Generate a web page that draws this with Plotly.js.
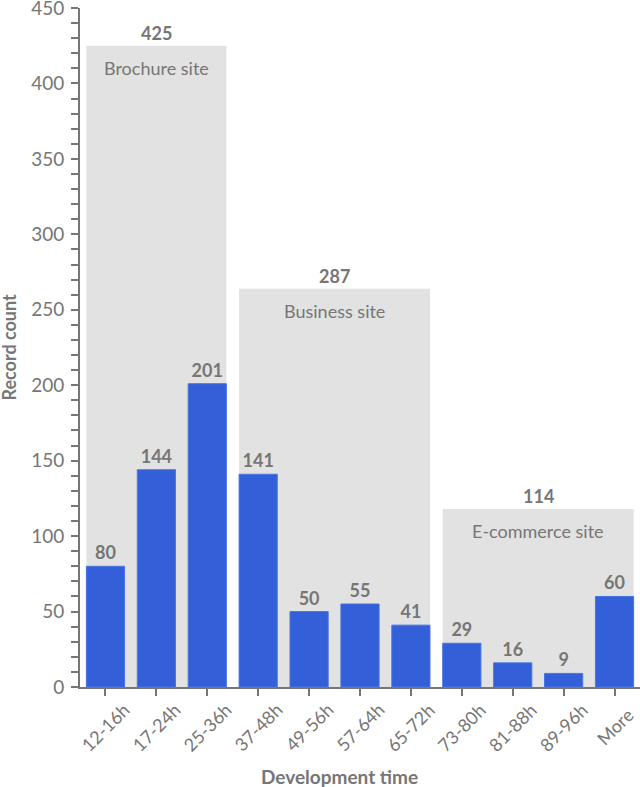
<!DOCTYPE html>
<html>
<head>
<meta charset="utf-8">
<script src="https://cdn.plot.ly/plotly-3.0.1.min.js"></script>
<style>html,body{margin:0;padding:0;background:#fff;}#chart{width:640px;height:787px;}</style>
</head>
<body>
<div id="chart"></div>
<script>
// Data
const categories = ["12-16h","17-24h","25-36h","37-48h","49-56h","57-64h","65-72h","73-80h","81-88h","89-96h","More"];
const recordCounts = [80,144,201,141,50,55,41,29,16,9,60];
const groupNames = ["Brochure site","Business site","E-commerce site"];
const groupStart = [0,3,7];
const groupEnd = [2,6,10];
const groupTotals = [425,287,114];
const groupBoxTop = [425,264,118];

const gray = "#767676";
const font = "Lato, Open Sans, sans-serif";
const bargap = 0.25;
const half = (1 - bargap) / 2;

const shapes = [];
const annotations = [];
for (let i = 0; i < groupNames.length; i++) {
  const x0 = groupStart[i] - half, x1 = groupEnd[i] + half;
  shapes.push({type:"rect", xref:"x", yref:"y", x0:x0, x1:x1, y0:0, y1:groupBoxTop[i],
    fillcolor:"#e2e2e2", line:{width:0}, layer:"below"});
  const xc = (x0 + x1) / 2;
  annotations.push({xref:"x", yref:"y", x:xc, y:groupBoxTop[i], yanchor:"bottom", yshift:0,
    text:"<b>"+groupTotals[i]+"</b>", showarrow:false, font:{family:font, size:18, color:gray}});
  annotations.push({xref:"x", yref:"y", x:xc, y:groupBoxTop[i], yanchor:"top", yshift:-9,
    text:groupNames[i], showarrow:false, font:{family:font, size:18, color:gray}});
}
// rotated category labels, centred under each tick
categories.forEach(c => {
  annotations.push({xref:"x", yref:"paper", x:c, y:0, xanchor:"center", yanchor:"middle",
    yshift:-40, textangle:-45, text:c, showarrow:false, font:{family:font, size:18, color:gray}});
});
annotations.push({xref:"paper", yref:"paper", x:0.4625, y:0, yanchor:"middle", yshift:-89,
  text:"<b>Development time</b>", showarrow:false, font:{family:font, size:19, color:gray}});
annotations.push({xref:"paper", yref:"paper", x:0, xanchor:"center", xshift:-72, y:0.5, yanchor:"middle",
  textangle:-90, text:"<b>Record count</b>", showarrow:false, font:{family:font, size:18, color:gray}});

const trace = {
  type:"bar", x:categories, y:recordCounts,
  marker:{color:"#335fd8", line:{color:"#4a74e2", width:1}},
  text:recordCounts.map(v => "<b>"+v+"</b>"), textposition:"outside",
  outsidetextfont:{family:font, size:18, color:gray}, cliponaxis:false,
  hoverinfo:"none"
};

const layout = {
  width:640, height:787,
  margin:{l:80, r:0, t:8, b:100},
  paper_bgcolor:"#fff", plot_bgcolor:"#fff",
  bargap:bargap, showlegend:false,
  font:{family:font, color:gray, size:18},
  xaxis:{
    type:"category", range:[-0.5, 10.5], showticklabels:false,
    showline:true, linecolor:gray, linewidth:2,
    ticks:"outside", ticklen:7, tickwidth:2, tickcolor:gray,
    showgrid:false, zeroline:false
  },
  yaxis:{
    range:[0,450], dtick:50, showgrid:false, zeroline:false,
    showline:true, linecolor:gray, linewidth:2, ticklabeloverflow:"allow",
    ticks:"outside", ticklen:7, tickwidth:2, tickcolor:gray, ticklabelstandoff:3,
    minor:{dtick:10, ticks:"outside", ticklen:7, tickwidth:2, tickcolor:gray, showgrid:false},
    tickfont:{family:font, size:19, color:gray}
  },
  shapes:shapes, annotations:annotations
};

Plotly.newPlot("chart", [trace], layout, {displayModeBar:false, staticPlot:true});
</script>
</body>
</html>
